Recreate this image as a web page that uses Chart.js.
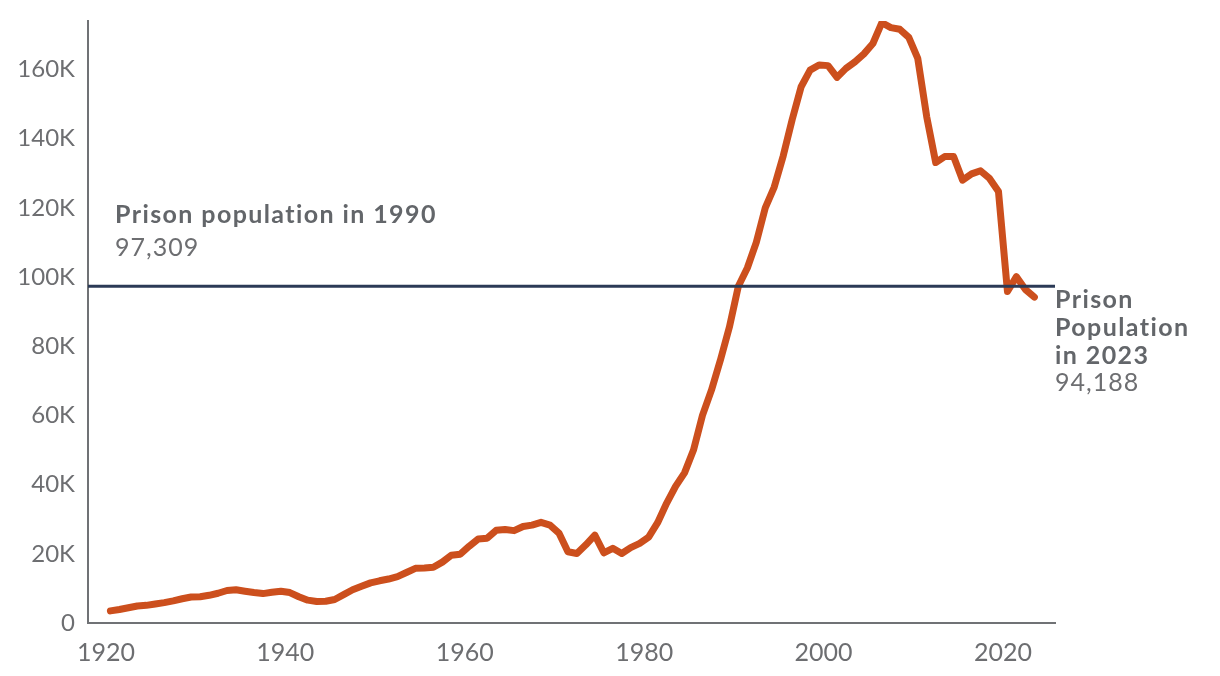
<!DOCTYPE html>
<html>
<head>
<meta charset="utf-8">
<script src="https://cdn.jsdelivr.net/npm/chart.js@4.4.1/dist/chart.umd.min.js"></script>
<style>
  html, body { margin: 0; padding: 0; background: #ffffff; }
  #wrap { width: 1220px; height: 676px; }
</style>
</head>
<body>
<div id="wrap"><canvas id="prisonChart" width="1220" height="676"></canvas></div>
<script>
// Prison population by year
const years = [
  1920, 1921, 1922, 1923, 1924, 1925, 1926, 1927, 1928, 1929,
  1930, 1931, 1932, 1933, 1934, 1935, 1936, 1937, 1938, 1939,
  1940, 1941, 1942, 1943, 1944, 1945, 1946, 1947, 1948, 1949,
  1950, 1951, 1952, 1953, 1954, 1955, 1956, 1957, 1958, 1959,
  1960, 1961, 1962, 1963, 1964, 1965, 1966, 1967, 1968, 1969,
  1970, 1971, 1972, 1973, 1974, 1975, 1976, 1977, 1978, 1979,
  1980, 1981, 1982, 1983, 1984, 1985, 1986, 1987, 1988, 1989,
  1990, 1991, 1992, 1993, 1994, 1995, 1996, 1997, 1998, 1999,
  2000, 2001, 2002, 2003, 2004, 2005, 2006, 2007, 2008, 2009,
  2010, 2011, 2012, 2013, 2014, 2015, 2016, 2017, 2018, 2019,
  2020, 2021, 2022, 2023
];
const population = [
  3500, 3900, 4400, 4900, 5100, 5500, 5900, 6400, 7000, 7500,
  7600, 8000, 8600, 9400, 9600, 9200, 8800, 8500, 8900, 9200,
  8800, 7600, 6600, 6200, 6300, 6800, 8200, 9600, 10600, 11600,
  12200, 12700, 13400, 14600, 15800, 15900, 16100, 17600, 19600, 19900,
  22200, 24300, 24500, 26800, 27000, 26700, 27900, 28300, 29100, 28300,
  26000, 20600, 20100, 22600, 25400, 20300, 21600, 20100, 21800, 23000,
  24800, 29000, 34600, 39500, 43400, 50000, 60000, 67300, 76000, 85500,
  97309, 102600, 110000, 120000, 126000, 135000, 145500, 155000, 159800, 161300,
  161100, 157700, 160300, 162200, 164500, 167500, 173500, 172100, 171600, 169300,
  163200, 146300, 133100, 134800, 134800, 128000, 129800, 130700, 128500, 124700,
  95800, 100100, 96400, 94188
];
const xTicks = [1920, 1940, 1960, 1980, 2000, 2020];
const yTicks = [0, 20000, 40000, 60000, 80000, 100000, 120000, 140000, 160000];

const refValue = 97309;
const refTitle = 'Prison population in 1990';
const refValueText = '97,309';
const endTitle = ['Prison', 'Population', 'in 2023'];
const endValueText = '94,188';

const TEXT_GRAY = '#63666a';
const TICK_GRAY = '#6d6e71';
const FONT = 'Lato, "Open Sans", sans-serif';

// values are annual, drawn at the middle of each year
const points = years.map((yr, i) => ({ x: yr + 0.5, y: population[i] }));

const annotations = {
    id: 'annotations',
    afterDatasetsDraw(chart) {
        const { ctx, chartArea, scales } = chart;
        const y = scales.y.getPixelForValue(refValue);
        ctx.save();
        ctx.strokeStyle = '#2b3a56';
        ctx.lineWidth = 3;
        ctx.beginPath();
        ctx.moveTo(chartArea.left, y);
        ctx.lineTo(chartArea.right, y);
        ctx.stroke();

        ctx.textAlign = 'left';
        ctx.textBaseline = 'middle';
        ctx.fillStyle = TEXT_GRAY;
        ctx.font = 'bold 25px ' + FONT;
        ctx.letterSpacing = '1.4px';
        ctx.fillText(refTitle, chartArea.left + 27, y - 71);
        ctx.fillStyle = TICK_GRAY;
        ctx.font = '25px ' + FONT;
        ctx.letterSpacing = '1px';
        ctx.fillText(refValueText, chartArea.left + 27, y - 38);

        // end label, right of the plot
        const lx = chartArea.right;
        ctx.fillStyle = TEXT_GRAY;
        ctx.font = 'bold 25px ' + FONT;
        ctx.letterSpacing = '1.4px';
        endTitle.forEach((line, i) => ctx.fillText(line, lx, y + 14 + i * 27.7));
        ctx.fillStyle = TICK_GRAY;
        ctx.font = '25px ' + FONT;
        ctx.letterSpacing = '1px';
        ctx.fillText(endValueText, lx, y + 14 + endTitle.length * 27.7);
        ctx.restore();
    }
};

new Chart(document.getElementById('prisonChart'), {
    type: 'line',
    data: {
        datasets: [{
            data: points,
            borderColor: '#cc4f1d',
            borderWidth: 7,
            borderCapStyle: 'round',
            borderJoinStyle: 'round',
            pointRadius: 0,
            tension: 0,
            fill: false
        }]
    },
    options: {
        responsive: false,
        animation: false,
        layout: { padding: { top: 21, right: 165, bottom: 0, left: 0 } },
        plugins: { legend: { display: false }, tooltip: { enabled: false } },
        scales: {
            x: {
                type: 'linear',
                min: 1918,
                max: 2025.8,
                grid: { display: false, drawTicks: false },
                border: { display: true, color: '#707275', width: 2 },
                afterBuildTicks: s => { s.ticks = xTicks.map(v => ({ value: v })); },
                afterFit: s => { s.height = 53; s.paddingLeft = 0; s.paddingRight = 0; },
                ticks: {
                    color: TICK_GRAY,
                    font: { family: FONT, size: 25 },
                    padding: 15,
                    maxRotation: 0,
                    callback: v => String(v)
                }
            },
            y: {
                min: 0,
                max: 174000,
                grid: { display: false, drawTicks: false },
                border: { display: true, color: '#707275', width: 2 },
                afterBuildTicks: s => { s.ticks = yTicks.map(v => ({ value: v })); },
                afterFit: s => { s.width = 88; s.paddingTop = 0; s.paddingBottom = 0; },
                ticks: {
                    color: TICK_GRAY,
                    font: { family: FONT, size: 24 },
                    padding: 13,
                    callback: v => v === 0 ? '0' : (v / 1000) + 'K'
                }
            }
        }
    },
    plugins: [annotations]
});
</script>
</body>
</html>
